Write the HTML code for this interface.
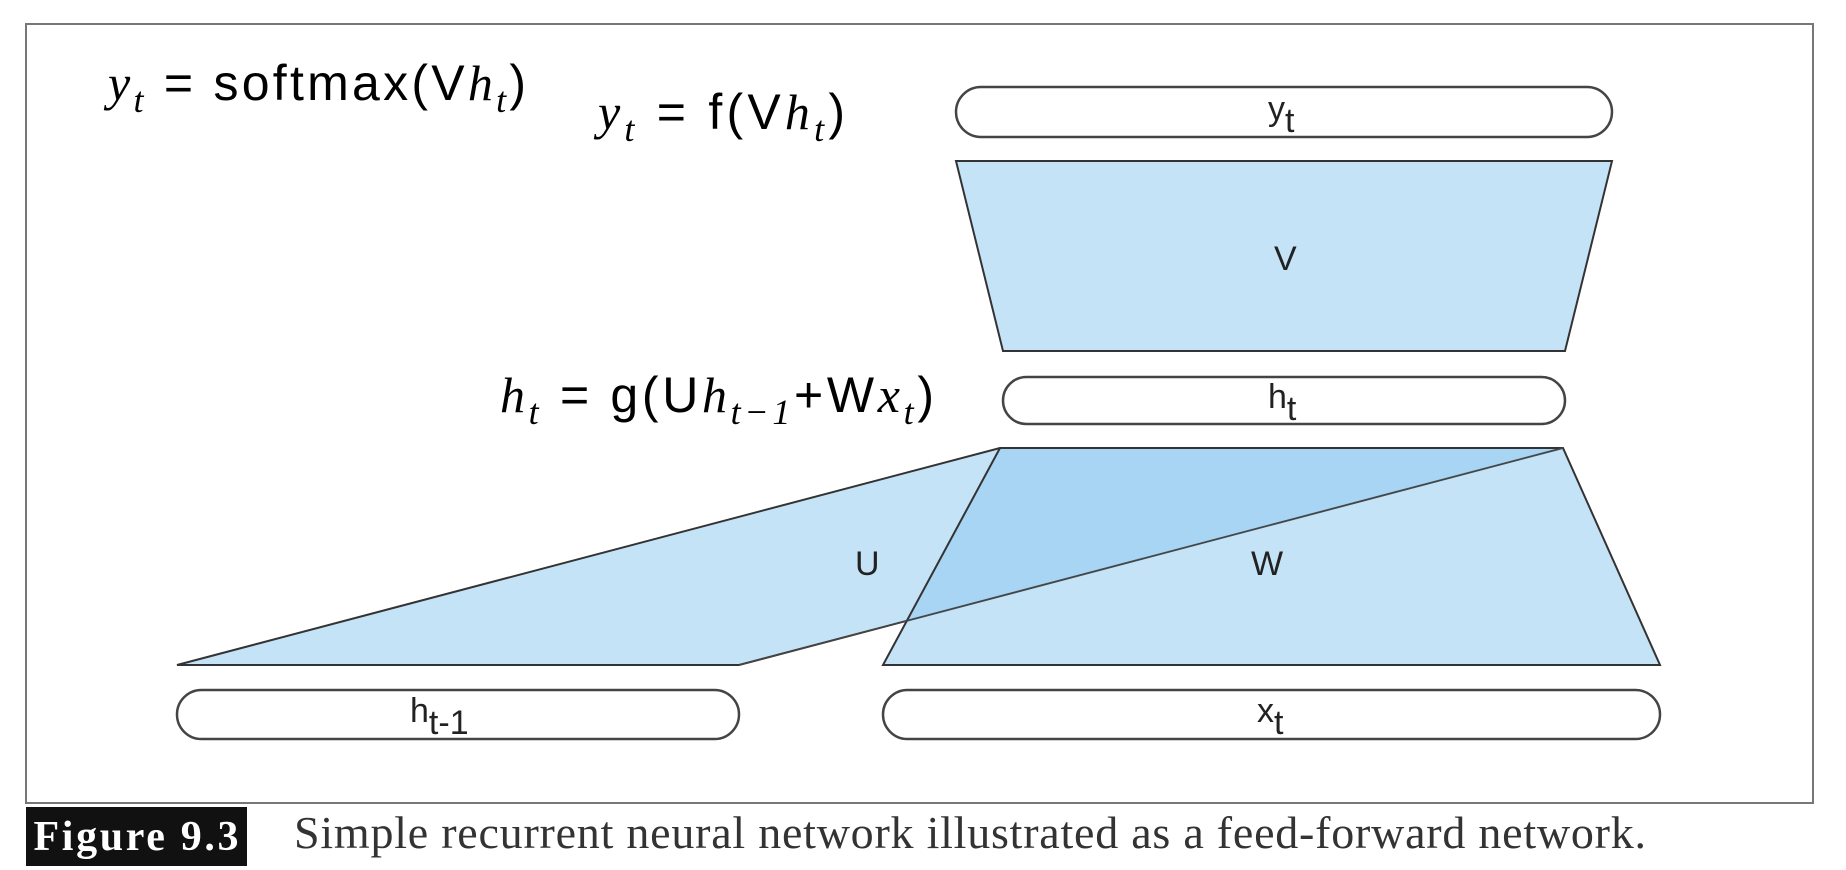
<!DOCTYPE html>
<html><head><meta charset="utf-8"><style>
html,body{margin:0;padding:0;background:#fff;}
body{width:1846px;height:870px;overflow:hidden;position:relative;font-family:"Liberation Sans",sans-serif;}
svg{position:absolute;left:0;top:0;}
</style></head><body>
<svg width="1846" height="870" viewBox="0 0 1846 870">
  <rect x="26" y="24" width="1787" height="779" fill="#fff" stroke="#777" stroke-width="2"/>
  <polygon points="177,665 739,665 1563,448 1000,448" fill="rgba(140,200,240,0.5)" stroke="#333" stroke-width="2"/>
  <polygon points="1000,448 1563,448 1660,665 883,665" fill="rgba(140,200,240,0.5)" stroke="#333" stroke-width="2"/>
  <line x1="739" y1="665" x2="1563" y2="448" stroke="#444" stroke-width="1.5"/>
  <polygon points="956,161 1612,161 1565,351 1003,351" fill="#c5e3f7" stroke="#333" stroke-width="2"/>
  <rect x="956" y="87" width="656" height="50" rx="25" fill="#fff" stroke="#444" stroke-width="2.5"/>
  <rect x="1003" y="377" width="562" height="47" rx="23.5" fill="#fff" stroke="#444" stroke-width="2.5"/>
  <rect x="177" y="690" width="562" height="49" rx="24.5" fill="#fff" stroke="#444" stroke-width="2.5"/>
  <rect x="883" y="690" width="777" height="49" rx="24.5" fill="#fff" stroke="#444" stroke-width="2.5"/>
  <g font-family="Liberation Sans, sans-serif" font-size="34" fill="#222">
    <text x="1268" y="120">y<tspan dy="12">t</tspan></text>
    <text x="1268" y="408">h<tspan dy="12">t</tspan></text>
    <text x="410" y="722">h<tspan dy="12">t-1</tspan></text>
    <text x="1257" y="722">x<tspan dy="12">t</tspan></text>
    <text x="1274" y="270">V</text>
    <text x="855" y="575">U</text>
    <text x="1251" y="575">W</text>
  </g>
  <g font-family="Liberation Sans, sans-serif" font-size="50" fill="#000">
    <text x="108" y="100" textLength="418"><tspan font-family="Liberation Serif, serif" font-style="italic">y</tspan><tspan dy="12" font-size="36" font-family="Liberation Serif, serif" font-style="italic">t</tspan><tspan dy="-12"> = softmax(V</tspan><tspan font-family="Liberation Serif, serif" font-style="italic">h</tspan><tspan dy="12" font-size="36" font-family="Liberation Serif, serif" font-style="italic">t</tspan><tspan dy="-12">)</tspan></text>
    <text x="598" y="129" textLength="247"><tspan font-family="Liberation Serif, serif" font-style="italic">y</tspan><tspan dy="12" font-size="36" font-family="Liberation Serif, serif" font-style="italic">t</tspan><tspan dy="-12"> = f(V</tspan><tspan font-family="Liberation Serif, serif" font-style="italic">h</tspan><tspan dy="12" font-size="36" font-family="Liberation Serif, serif" font-style="italic">t</tspan><tspan dy="-12">)</tspan></text>
    <text x="500" y="412" textLength="434"><tspan font-family="Liberation Serif, serif" font-style="italic">h</tspan><tspan dy="12" font-size="36" font-family="Liberation Serif, serif" font-style="italic">t</tspan><tspan dy="-12"> = g(U</tspan><tspan font-family="Liberation Serif, serif" font-style="italic">h</tspan><tspan dy="12" font-size="36" font-family="Liberation Serif, serif" font-style="italic">t−1</tspan><tspan dy="-12">+W</tspan><tspan font-family="Liberation Serif, serif" font-style="italic">x</tspan><tspan dy="12" font-size="36" font-family="Liberation Serif, serif" font-style="italic">t</tspan><tspan dy="-12">)</tspan></text>
  </g>
  <rect x="26" y="807" width="221" height="59" fill="#111"/>
  <text x="136" y="850" text-anchor="middle" font-family="Liberation Serif, serif" font-weight="bold" font-size="42" fill="#fff" textLength="205">Figure 9.3</text>
  <text x="294" y="848" font-family="Liberation Serif, serif" font-size="46" fill="#333" textLength="1352">Simple recurrent neural network illustrated as a feed-forward network.</text>
</svg>
</body></html>
